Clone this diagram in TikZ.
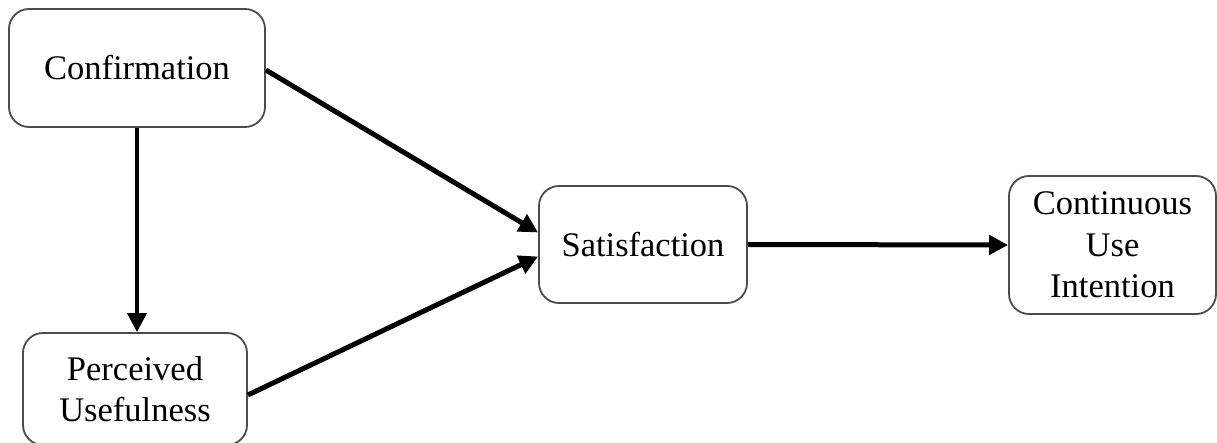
\documentclass[tikz,border=0pt]{standalone}
\usepackage{fontspec}
\setmainfont{Liberation Serif}
\usetikzlibrary{arrows.meta}

\tikzset{
  box/.style={draw=black!70, line width=1.8pt, rounded corners=20pt, fill=white,
              align=center, font=\fontsize{34.5}{41.5}\selectfont, inner sep=0pt},
  link/.style={line width=5pt, -{Triangle[length=19pt,width=19pt]}},
  thinlink/.style={line width=3.8pt, -{Triangle[length=19pt,width=19pt]}}
}

\begin{document}
\begin{tikzpicture}[x=1pt, y=-1pt]
  \useasboundingbox (0,0) rectangle (1217,443);

  % construct boxes
  \node[box, minimum width=256pt, minimum height=118pt] (conf) at (137,68) {Confirmation};
  \node[box, minimum width=224pt, minimum height=112pt] (pu) at (135,389) {Perceived\\Usefulness};
  \node[box, minimum width=208pt, minimum height=117pt] (sat) at (643,244.5) {Satisfaction};
  \node[box, minimum width=207pt, minimum height=138pt] (cui) at (1112.5,245) {Continuous\\Use\\Intention};

  % paths between constructs
  \draw[thinlink] (conf.south) -- (conf.south |- pu.north);
  \draw[link] ([yshift=-2pt]conf.east) -- ([yshift=12pt]sat.west);
  \draw[link] ([yshift=-6pt]pu.east) -- ([yshift=-12pt]sat.west);
  \draw[link] (sat.east) -- (cui.west);
\end{tikzpicture}
\end{document}
